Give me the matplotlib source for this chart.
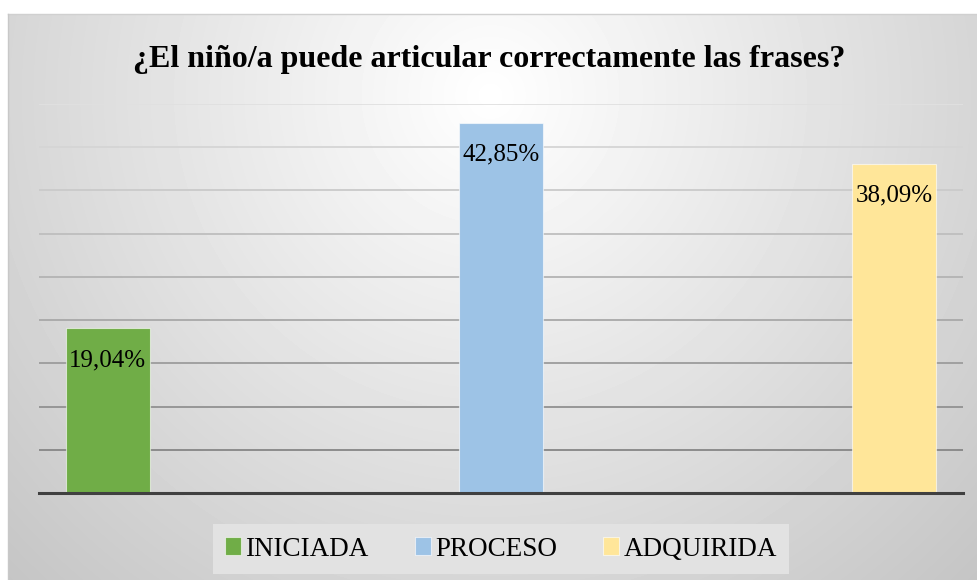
import numpy as np
import matplotlib
matplotlib.use("Agg")
import matplotlib.pyplot as plt
from matplotlib.patches import Patch

# datos del gráfico
categorias = ["INICIADA", "PROCESO", "ADQUIRIDA"]
porcentajes = [19.04, 42.85, 38.09]
etiquetas = ["19,04%", "42,85%", "38,09%"]
colores = ["#70ad47", "#9dc3e6", "#ffe699"]
titulo = "¿El niño/a puede articular correctamente las frases?"

W, H = 977, 580
plt.rcParams['font.family'] = ['Liberation Serif', 'DejaVu Serif']

fig = plt.figure(figsize=(W / 100, H / 100), dpi=100)

# fondo con degradado radial (estilo Excel)
bg = fig.add_axes([8 / W, 0, (W - 8) / W, (H - 14) / H])
yy, xx = np.mgrid[14:H, 8:W]
d = np.sqrt((xx - 490.0) ** 2 + (yy - 95.0) ** 2)
gris = np.clip(255 - 0.085 * d, 190, 255) / 255.0
bg.imshow(gris, cmap="gray", vmin=0, vmax=1, aspect="auto", interpolation="bilinear")
bg.set_axis_off()
# borde superior/izquierdo del área del gráfico
fig.add_artist(plt.Line2D([8 / W, 1], [1 - 14 / H, 1 - 14 / H], color="#d0d0d0", lw=1))
fig.add_artist(plt.Line2D([8 / W, 8 / W], [0, 1 - 14 / H], color="#c8c8c8", lw=1))

# área de trazado
ax = fig.add_axes([39 / W, 87 / H, (963 - 39) / W, 389 / H])
ax.patch.set_alpha(0)
ax.set_ylim(0, 45)
ax.set_xlim(-0.175, 2.175)

# líneas de división con degradado vertical
niveles = np.arange(5, 50, 5)
for v in niveles:
    t = v / 45.0
    c = 0.48 + (0.88 - 0.48) * t
    ax.axhline(v, color=(c, c, c), lw=1.3, zorder=1)

x = np.arange(len(categorias))
barras = ax.bar(x, porcentajes, width=0.214, color=colores,
                edgecolor=(1, 1, 1, 0.6), linewidth=0.8, zorder=2)

for xi, v, et in zip(x, porcentajes, etiquetas):
    ax.annotate(et, (xi, v), xytext=(0, -23), textcoords="offset points",
                ha="center", va="center", fontsize=18, color="black", zorder=3)

ax.axhline(0, color="#404040", lw=2.2, zorder=3, clip_on=False)
for s in ax.spines.values():
    s.set_visible(False)
ax.set_xticks([])
ax.set_yticks([])

fig.text(489 / W, 1 - 60 / H, titulo, ha="center", va="center",
         fontsize=23, fontweight="bold", color="black")

handles = [Patch(facecolor=c, edgecolor=(1, 1, 1, 0.6), linewidth=0.8) for c in colores]
leg = fig.legend(handles, categorias, loc="center", bbox_to_anchor=(501 / W, 1 - 549 / H),
                 ncol=3, fontsize=19.5, frameon=True, facecolor="#e2e2e2", edgecolor="none",
                 fancybox=False, framealpha=1, handlelength=0.6, handleheight=0.6,
                 handletextpad=0.15, columnspacing=1.7, borderpad=0.45)

fig.savefig("out.png", dpi=100)
